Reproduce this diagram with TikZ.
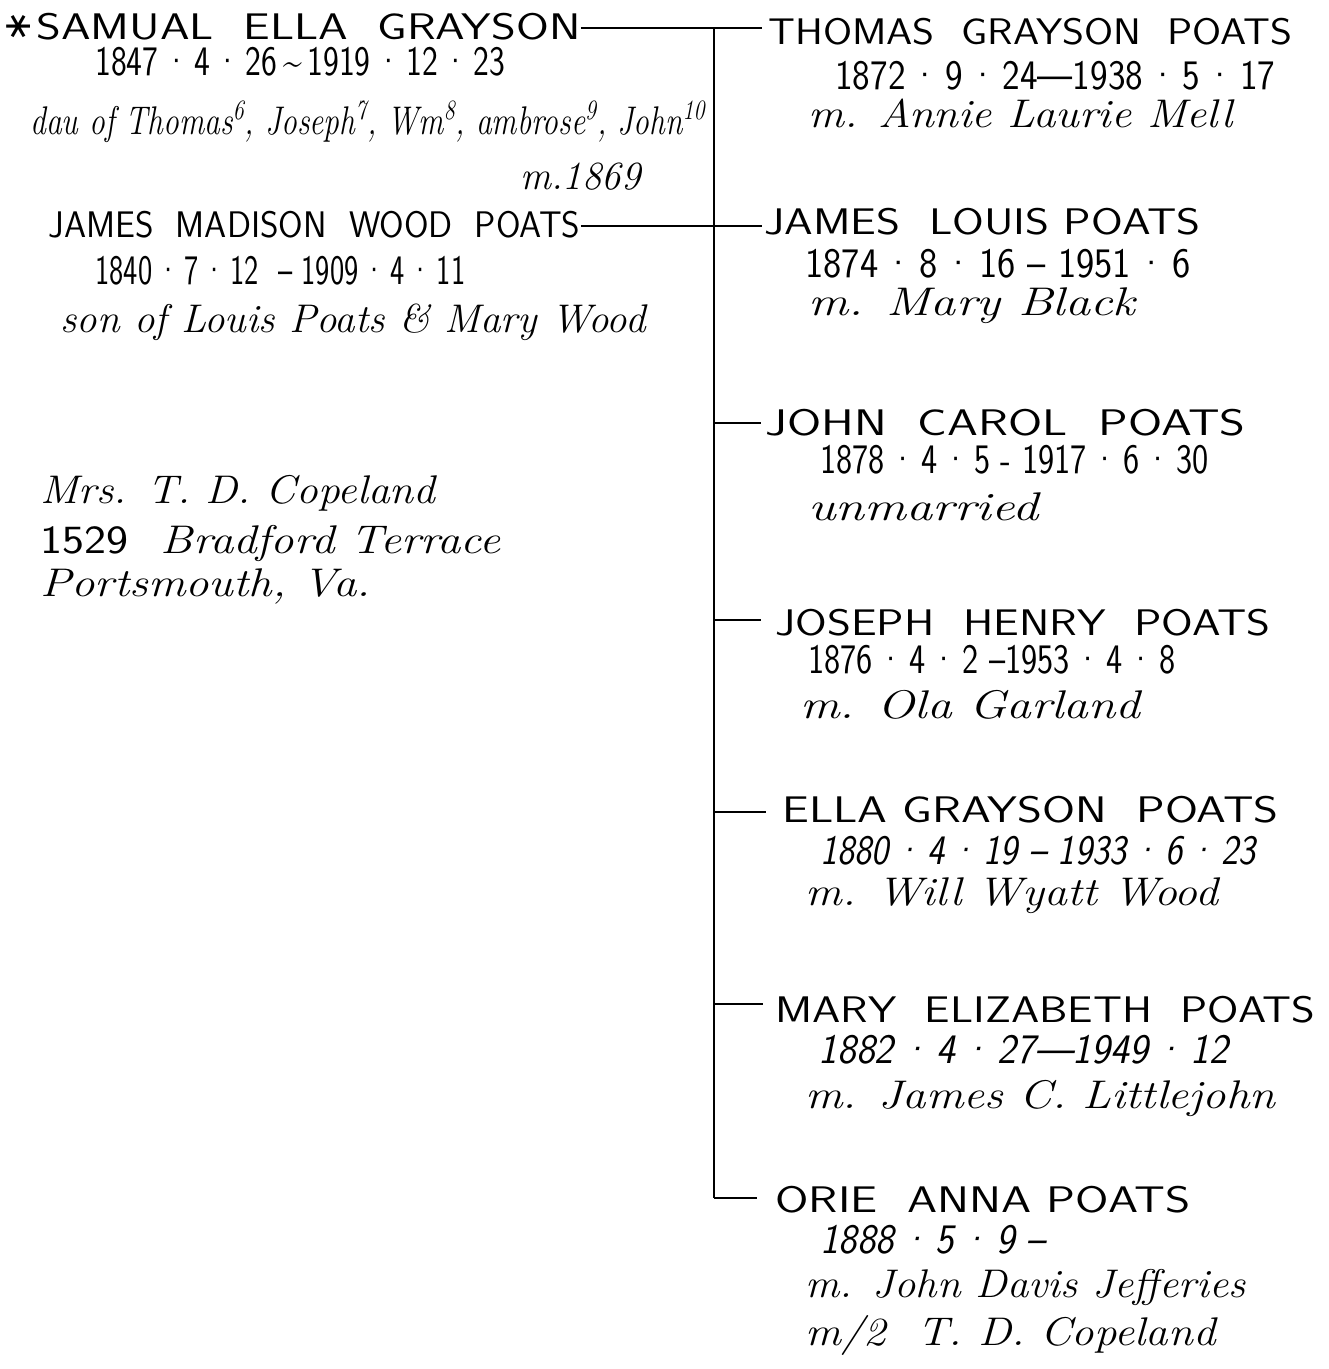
\documentclass[tikz,border=0pt]{standalone}
\usepackage{fontspec}
\usepackage{graphicx}
\newfontfamily\djv{DejaVu Sans}
\newlength\fwlen
\newcommand\fw[2]{\setlength{\fwlen}{#1pt}\setlength{\fwlen}{0.5\fwlen}\resizebox{\fwlen}{\height}{#2}}
\tikzset{
  caps/.style={anchor=base west,inner sep=0pt,font=\sffamily\fontsize{18.5}{18.5}\selectfont},
  nums/.style={anchor=base west,inner sep=0pt,font=\sffamily\fontsize{21}{21}\selectfont},
  cur/.style={anchor=base west,inner sep=0pt,font=\itshape\fontsize{20}{20}\selectfont},
  line/.style={line width=1.2pt,black},
}
\begin{document}
\begin{tikzpicture}[x=0.5pt,y=-0.5pt]
\useasboundingbox (0,0) rectangle (1328,1369);
% parents
\node[anchor=center,inner sep=0pt,font=\djv\fontsize{19}{19}\selectfont,rotate=90] (star) at (19,27) {∗};
\node[caps] (sam) at (36,40) {\fw{544}{SAMUAL\ \ ELLA\ \ GRAYSON}};
\node[nums] (samd) at (95,76) {\fw{410}{1847\,·\,4\,·\,26\,\char"7E\,1919\,·\,12\,·\,23}};
\node[cur] (samp) at (30,135) {\fw{675}{dau of Thomas\textsuperscript{6}, Joseph\textsuperscript{7}, Wm\textsuperscript{8}, ambrose\textsuperscript{9}, John\textsuperscript{10}}};
\node[cur] (marr) at (520,190) {\fw{120}{m.1869}};
\node[caps] (jmw) at (48,238) {\fw{532}{JAMES\ \ MADISON\ \ WOOD\ \ POATS}};
\node[nums] (jmwd) at (95,285) {\fw{370}{1840\,·\,7\,·\,12\ \ --\ 1909\,·\,4\,·\,11}};
\node[cur] (jmwp) at (60,333) {\fw{585}{son of Louis Poats \& Mary Wood}};
% address
\node[cur] (addr1) at (40,503) {\fw{395}{Mrs. T. D. Copeland}};
\node[cur] (addr2) at (40,553) {\fw{460}{{\upshape\sffamily 1529}\ \ Bradford Terrace}};
\node[cur] (addr3) at (40,596) {\fw{330}{Portsmouth, Va.}};
% children
\node[caps] (c1) at (768,45) {\fw{524}{THOMAS\ \ GRAYSON\ \ POATS}};
\node[nums] (c1d) at (835,90) {\fw{440}{1872\,·\,9\,·\,24---1938\,·\,5\,·\,17}};
\node[cur] (c1m) at (808,128) {\fw{424}{m. Annie Laurie Mell}};
\node[caps] (c2) at (764,235) {\fw{436}{JAMES\ \ LOUIS\ POATS}};
\node[nums] (c2d) at (805,278) {\fw{385}{1874\,·\,8\,·\,16\ --\ 1951\,·\,6}};
\node[cur] (c2m) at (808,316) {\fw{327}{m. Mary Black}};
\node[caps] (c3) at (765,435) {\fw{480}{JOHN\ \ CAROL\ \ POATS}};
\node[nums] (c3d) at (820,473) {\fw{388}{1878\,·\,4\,·\,5\ -\ 1917\,·\,6\,·\,30}};
\node[cur] (c3m) at (808,520) {\fw{230}{unmarried}};
\node[caps] (c4) at (775,635) {\fw{495}{JOSEPH\ \ HENRY\ \ POATS}};
\node[nums] (c4d) at (808,673) {\fw{367}{1876\,·\,4\,·\,2\ --1953\,·\,4\,·\,8}};
\node[cur] (c4m) at (800,718) {\fw{340}{m. Ola Garland}};
\node[caps] (c5) at (782,822) {\fw{496}{ELLA\ GRAYSON\ \ POATS}};
\node[nums] (c5d) at (820,864) {\fw{435}{\itshape 1880\,·\,4\,·\,19\ --\ 1933\,·\,6\,·\,23}};
\node[cur] (c5m) at (805,905) {\fw{413}{m. Will Wyatt Wood}};
\node[caps] (c6) at (775,1022) {\fw{540}{MARY\ \ ELIZABETH\ \ POATS}};
\node[nums] (c6d) at (818,1063) {\fw{410}{\itshape 1882\,·\,4\,·\,27---1949\,·\,12}};
\node[cur] (c6m) at (805,1108) {\fw{470}{m. James C. Littlejohn}};
\node[caps] (c7) at (775,1212) {\fw{415}{ORIE\ \ ANNA\ POATS}};
\node[nums] (c7d) at (820,1253) {\fw{225}{\itshape 1888\,·\,5\,·\,9\ --}};
\node[cur] (c7m) at (805,1297) {\fw{440}{m. John Davis Jefferies}};
\node[cur] (c7m2) at (805,1345) {\fw{410}{m/2\ \ T. D. Copeland}};
% connectors
\coordinate (j0) at (714,28);
\coordinate (j1) at (714,226);
\coordinate (j2) at (714,423);
\coordinate (j3) at (714,620);
\coordinate (j4) at (714,812);
\coordinate (j5) at (714,1004);
\coordinate (j6) at (714,1198);
\draw[line] (sam.east |- j0) -- (j0);
\draw[line] (jmw.east |- j1) -- (j1);
\draw[line] (j0) -- (j6);
\draw[line,shorten >=3pt] (j0) -- (j0 -| c1.west);
\draw[line,shorten >=1pt] (j1) -- (j1 -| c2.west);
\draw[line,shorten >=2pt] (j2) -- (j2 -| c3.west);
\draw[line,shorten >=7pt] (j3) -- (j3 -| c4.west);
\draw[line,shorten >=8pt] (j4) -- (j4 -| c5.west);
\draw[line,shorten >=6pt] (j5) -- (j5 -| c6.west);
\draw[line,shorten >=9pt] (j6) -- (j6 -| c7.west);
\end{tikzpicture}
\end{document}
